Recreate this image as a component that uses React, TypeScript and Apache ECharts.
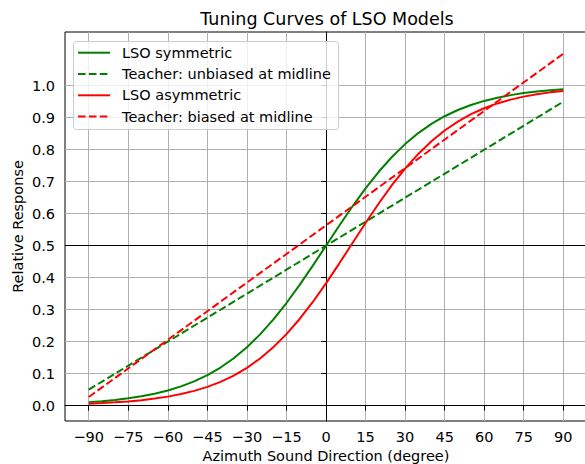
import React, { useEffect, useRef } from "react";
import * as echarts from "echarts";

// Azimuth angles (degree) at which the curves are read
const angles = [
  -90, -85, -80, -75, -70, -65, -60, -55, -50, -45, -40, -35, -30, -25, -20, -15, -10, -5,
  0, 5, 10, 15, 20, 25, 30, 35, 40, 45, 50, 55, 60, 65, 70, 75, 80, 85, 90,
];
const lsoSymmetric = [
  0.011, 0.0141, 0.018, 0.023, 0.0293, 0.0373, 0.0474, 0.0601, 0.0759, 0.0953, 0.1192,
  0.148, 0.1824, 0.2227, 0.2689, 0.3208, 0.3775, 0.4378, 0.5, 0.5622, 0.6225, 0.6792,
  0.7311, 0.7773, 0.8176, 0.852, 0.8808, 0.9047, 0.9241, 0.9399, 0.9526, 0.9627, 0.9707,
  0.977, 0.982, 0.9859, 0.989,
];
const lsoAsymmetric = [
  0.0062, 0.008, 0.0103, 0.0133, 0.0171, 0.022, 0.0282, 0.0361, 0.0461, 0.0587, 0.0744,
  0.094, 0.1182, 0.1474, 0.1824, 0.2236, 0.2709, 0.3241, 0.3823, 0.4441, 0.5077, 0.5709,
  0.632, 0.6891, 0.741, 0.7869, 0.8265, 0.8601, 0.888, 0.9111, 0.9297, 0.9447, 0.9566,
  0.966, 0.9734, 0.9793, 0.9839,
];
const teacherX = [-90, 90];
const teacherUnbiased = [0.05, 0.95];
const teacherBiased = [0.027, 1.1];

const xTicks = [-90, -75, -60, -45, -30, -15, 0, 15, 30, 45, 60, 75, 90];
const yTicks = [0, 0.1, 0.2, 0.3, 0.4, 0.5, 0.6, 0.7, 0.8, 0.9, 1.0];

const seriesNames = [
  "LSO symmetric",
  "Teacher: unbiased at midline",
  "LSO asymmetric",
  "Teacher: biased at midline",
];

const FONT = "DejaVu Sans";
const FS = 14.5;
const GREEN = "#008000";
const RED = "#ff0000";
const DASH = [7.6, 3.3];

const zip = (xs: number[], ys: number[]) => xs.map((x, i) => [x, ys[i]]);

export default function App() {
  const ref = useRef<HTMLDivElement>(null);

  useEffect(() => {
    if (!ref.current) return;
    const chart = echarts.init(ref.current, undefined, { renderer: "svg" });
    chart.setOption({
      animation: false,
      backgroundColor: "#ffffff",
      textStyle: { fontFamily: FONT },
      graphic: [
        {
          type: "text",
          x: 327,
          y: 19,
          z: 5,
          style: {
            text: "Tuning Curves of LSO Models",
            fontFamily: FONT,
            fontSize: 17.5,
            fill: "#000",
            align: "center",
            verticalAlign: "middle",
          },
        },
        {
          type: "rect",
          z: 8,
          shape: { x: 73.5, y: 41.5, width: 265, height: 88, r: 3 },
          style: { fill: "rgba(255,255,255,0.8)", stroke: "#cccccc", lineWidth: 1 },
        },
      ],
      grid: {
        left: 65,
        top: 32,
        width: 522,
        height: 389,
        outerBoundsMode: "none",
        containLabel: false,
        show: true,
        borderColor: "#000",
        borderWidth: 1,
        backgroundColor: "transparent",
      },
      legend: {
        data: seriesNames,
        orient: "vertical",
        left: 77,
        top: 45.2,
        itemWidth: 32,
        itemHeight: 15,
        itemGap: 6.3,
        padding: 0,
        z: 10,
        itemStyle: { opacity: 0, borderWidth: 0 },
        textStyle: {
          fontFamily: FONT,
          fontSize: FS,
          color: "#000",
          padding: [0, 0, 0, 7],
        },
      },
      xAxis: {
        type: "value",
        min: -99,
        max: 99,
        name: "Azimuth Sound Direction (degree)",
        nameLocation: "middle",
        nameGap: 27,
        nameMoveOverlap: false,
        nameTextStyle: { fontFamily: FONT, fontSize: FS, color: "#000" },
        axisLine: { show: true, lineStyle: { color: "#000", width: 1 } },
        axisTick: { show: true, length: 5, customValues: xTicks, lineStyle: { color: "#000" } },
        axisLabel: {
          customValues: xTicks,
          formatter: (v: number) => String(v).replace("-", "\u2212"),
          fontFamily: FONT,
          fontSize: FS,
          color: "#000",
          margin: 8,
        },
        splitLine: { show: true, lineStyle: { color: "#b0b0b0", width: 1 } },
      },
      yAxis: {
        type: "value",
        min: -0.048,
        max: 1.168,
        name: "Relative Response",
        nameLocation: "middle",
        nameGap: 40,
        nameMoveOverlap: false,
        nameTextStyle: { fontFamily: FONT, fontSize: FS, color: "#000" },
        axisLine: { show: true, lineStyle: { color: "#000", width: 1 } },
        axisTick: { show: true, length: 5, customValues: yTicks, lineStyle: { color: "#000" } },
        axisLabel: {
          customValues: yTicks,
          formatter: (v: number) => v.toFixed(1),
          fontFamily: FONT,
          fontSize: FS,
          color: "#000",
          margin: 10,
        },
        splitLine: { show: true, lineStyle: { color: "#b0b0b0", width: 1 } },
      },
      series: [
        {
          name: seriesNames[0],
          type: "line",
          symbol: "none",
          data: zip(angles, lsoSymmetric),
          lineStyle: { color: GREEN, width: 2 },
          itemStyle: { color: GREEN },
          markLine: {
            silent: true,
            z: 1,
            symbol: ["none", "none"],
            label: { show: false },
            lineStyle: { color: "#000", width: 1, type: "solid" },
            data: [{ xAxis: 0 }, { yAxis: 0.5 }],
          },
        },
        {
          name: seriesNames[1],
          type: "line",
          symbol: "none",
          data: zip(teacherX, teacherUnbiased),
          lineStyle: { color: GREEN, width: 2, type: DASH },
          itemStyle: { color: GREEN },
        },
        {
          name: seriesNames[2],
          type: "line",
          symbol: "none",
          data: zip(angles, lsoAsymmetric),
          lineStyle: { color: RED, width: 2 },
          itemStyle: { color: RED },
        },
        {
          name: seriesNames[3],
          type: "line",
          symbol: "none",
          data: zip(teacherX, teacherBiased),
          lineStyle: { color: RED, width: 2, type: DASH },
          itemStyle: { color: RED },
        },
      ],
    });
    return () => chart.dispose();
  }, []);

  return (
    <div
      ref={ref}
      style={{ position: "fixed", left: 0, top: 0, width: 585, height: 464 }}
    />
  );
}
